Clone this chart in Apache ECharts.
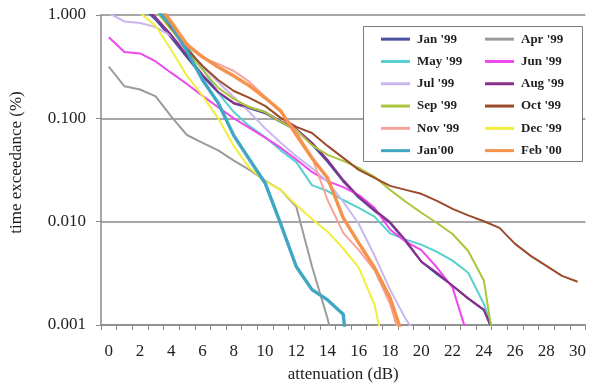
<!DOCTYPE html>
<html>
<head>
<meta charset="utf-8">
<script src="https://cdn.jsdelivr.net/npm/echarts@6/dist/echarts.min.js"></script>
<style>
  html, body { margin: 0; padding: 0; background: #ffffff; }
  #chart { width: 589px; height: 388px; }
</style>
</head>
<body>
<div id="chart"></div>
<script>
// Attenuation steps (dB) along the horizontal axis
const attenuationDb = [0, 1, 2, 3, 4, 5, 6, 7, 8, 9, 10, 11, 12, 13, 14, 15,
  16, 17, 18, 19, 20, 21, 22, 23, 24, 25, 26, 27, 28, 29, 30];

// Time exceedance (%) per month, one value per dB step (null = no data)
const jan99 = [null, null, 1.25, 0.9, 0.6, 0.39, 0.255, 0.178, 0.139, 0.125, 0.112, 0.092, 0.077, 0.056, 0.038, 0.0245, 0.017, 0.0127, 0.0097, 0.0064, 0.0041, 0.0031, 0.0024, 0.0018, 0.0014, 0.0006];
const apr99 = [0.316, 0.204, 0.19, 0.163, 0.104, 0.069, 0.058, 0.049, 0.039, 0.0317, 0.025, 0.0203, 0.0139, 0.0037, 0.00115, 0.0003];
const may99 = [null, null, null, 1.2, 0.8, 0.5, 0.3, 0.176, 0.115, 0.084, 0.066, 0.049, 0.0377, 0.0226, 0.0198, 0.0162, 0.0136, 0.0112, 0.0077, 0.0067, 0.006, 0.0051, 0.0042, 0.0032, 0.0016, 0.0006];
const jun99 = [0.608, 0.439, 0.425, 0.355, 0.275, 0.215, 0.165, 0.128, 0.1, 0.081, 0.065, 0.052, 0.04, 0.0303, 0.0247, 0.0216, 0.0181, 0.0136, 0.0084, 0.0064, 0.0053, 0.0036, 0.0023, 0.00075];
const jul99 = [1.04, 0.865, 0.837, 0.765, 0.627, 0.458, 0.314, 0.225, 0.16, 0.115, 0.08, 0.058, 0.043, 0.033, 0.0243, 0.0156, 0.0095, 0.0047, 0.0022, 0.00114, 0.0007];
const aug99 = [null, null, 1.3, 0.95, 0.64, 0.41, 0.263, 0.18, 0.141, 0.128, 0.115, 0.094, 0.079, 0.058, 0.0396, 0.0253, 0.0174, 0.013, 0.0099, 0.0066, 0.0041, 0.0032, 0.0024, 0.00181, 0.0014, 0.00065];
const sep99 = [null, null, null, 1.1, 0.72, 0.458, 0.294, 0.197, 0.154, 0.128, 0.115, 0.0925, 0.0772, 0.055, 0.0443, 0.0388, 0.0332, 0.0272, 0.0203, 0.0156, 0.0122, 0.0097, 0.0076, 0.0052, 0.0027, 0.00029];
const oct99 = [null, null, null, 1.2, 0.752, 0.469, 0.321, 0.235, 0.184, 0.158, 0.132, 0.101, 0.0826, 0.0722, 0.0541, 0.0414, 0.0317, 0.0265, 0.0222, 0.0203, 0.0186, 0.0159, 0.0133, 0.0115, 0.0101, 0.0087, 0.0061, 0.00467, 0.00374, 0.00299, 0.00262];
const nov99 = [null, null, null, 1.25, 0.837, 0.536, 0.384, 0.336, 0.287, 0.225, 0.161, 0.115, 0.0741, 0.042, 0.0162, 0.0078, 0.0053, 0.0034, 0.0016, 0.0005];
const dec99 = [null, 1.5, 1.05, 0.783, 0.458, 0.257, 0.165, 0.1, 0.054, 0.033, 0.0247, 0.0203, 0.0145, 0.0106, 0.008, 0.0055, 0.0036, 0.00157, 0.00032];
const jan00 = [null, null, null, 1.15, 0.8, 0.449, 0.235, 0.141, 0.068, 0.04, 0.0237, 0.0095, 0.00366, 0.0022, 0.00175, 0.00127, 0.00005];
const feb00 = [null, null, null, 1.35, 0.856, 0.513, 0.393, 0.314, 0.257, 0.206, 0.158, 0.118, 0.069, 0.0413, 0.0265, 0.0109, 0.0062, 0.0036, 0.00183, 0.00065];

// Month labels shown in the legend
const monthNames = ["Jan '99", "Apr '99", "May '99", "Jun '99", "Jul '99", "Aug '99",
  "Sep '99", "Oct '99", "Nov '99", "Dec '99", "Jan'00", "Feb '00"];

// Y-axis tick labels
const exceedanceTicks = ['0.001', '0.010', '0.100', '1.000'];

const monthValues = [jan99, apr99, may99, jun99, jul99, aug99, sep99, oct99, nov99, dec99, jan00, feb00];
const lineColors = ['#4b4f9f', '#9c9c9c', '#58cfcf', '#ee48ee', '#c9b8ef', '#8a2f8a',
  '#a9c63c', '#9c4a2c', '#f5a39b', '#f1ee3e', '#3fa7c4', '#f6924a'];
const lineWidths = [2, 2, 2, 2, 2, 2, 2, 2, 2, 2, 3.4, 3.4];

const serif = 'Liberation Serif';
const textColor = '#1e1e1e';
const gridGray = '#8a8a8a';

const series = monthNames.map((name, i) => ({
  name: name,
  type: 'line',
  data: monthValues[i],
  symbol: 'none',
  color: lineColors[i],
  lineStyle: { color: lineColors[i], width: lineWidths[i] },
  clip: true,
  z: 2 + i * 0.01
}));

const legendText = {
  fontFamily: serif, fontWeight: 'bold', fontSize: 13,
  color: textColor, lineHeight: 22.3, padding: [0, 0, 0, 2]
};
const legendBase = {
  orient: 'vertical', icon: 'rect', itemWidth: 29, itemHeight: 3,
  itemGap: 0, padding: 0, top: 28, z: 20, selectedMode: false,
  textStyle: legendText
};

const chart = echarts.init(document.getElementById('chart'), null, { renderer: 'canvas' });
chart.setOption({
  animation: false,
  backgroundColor: '#ffffff',
  grid: { left: 98, top: 15, width: 491, height: 310, containLabel: false },
  xAxis: {
    type: 'category',
    data: attenuationDb.map(String),
    boundaryGap: true,
    name: 'attenuation (dB)',
    nameLocation: 'middle',
    nameGap: 41,
    nameTextStyle: { fontFamily: serif, fontSize: 17, color: textColor },
    axisLine: { show: true, lineStyle: { color: gridGray, width: 1.5 } },
    axisTick: { show: true, interval: 0, length: 5, lineStyle: { color: gridGray, width: 1 } },
    axisLabel: { interval: 1, margin: 18, fontFamily: serif, fontSize: 17, color: textColor },
    splitLine: { show: false }
  },
  yAxis: {
    type: 'log',
    logBase: 10,
    min: 0.001,
    max: 1,
    name: 'time exceedance (%)',
    nameLocation: 'middle',
    nameRotate: 90,
    nameGap: 76,
    nameTextStyle: { fontFamily: serif, fontSize: 17, color: textColor, padding: [0, 0, 0, 15] },
    axisLine: { show: true, lineStyle: { color: gridGray, width: 1.5 } },
    axisTick: { show: true, length: 5, lineStyle: { color: gridGray, width: 1 } },
    axisLabel: {
      margin: 15, fontFamily: serif, fontSize: 17, color: textColor,
      formatter: (v) => exceedanceTicks[Math.round(Math.log10(v)) + 3]
    },
    splitLine: { show: true, lineStyle: { color: gridGray, width: 1.6 } }
  },
  legend: [
    Object.assign({}, legendBase, { left: 381, data: monthNames.filter((_, i) => i % 2 === 0) }),
    Object.assign({}, legendBase, { left: 485, data: monthNames.filter((_, i) => i % 2 === 1) })
  ],
  graphic: [{
    type: 'rect',
    left: 363, top: 26,
    z: 10,
    shape: { width: 219, height: 135 },
    style: { fill: '#ffffff', stroke: '#7a7a7a', lineWidth: 1 }
  }],
  series: series
});
</script>
</body>
</html>
